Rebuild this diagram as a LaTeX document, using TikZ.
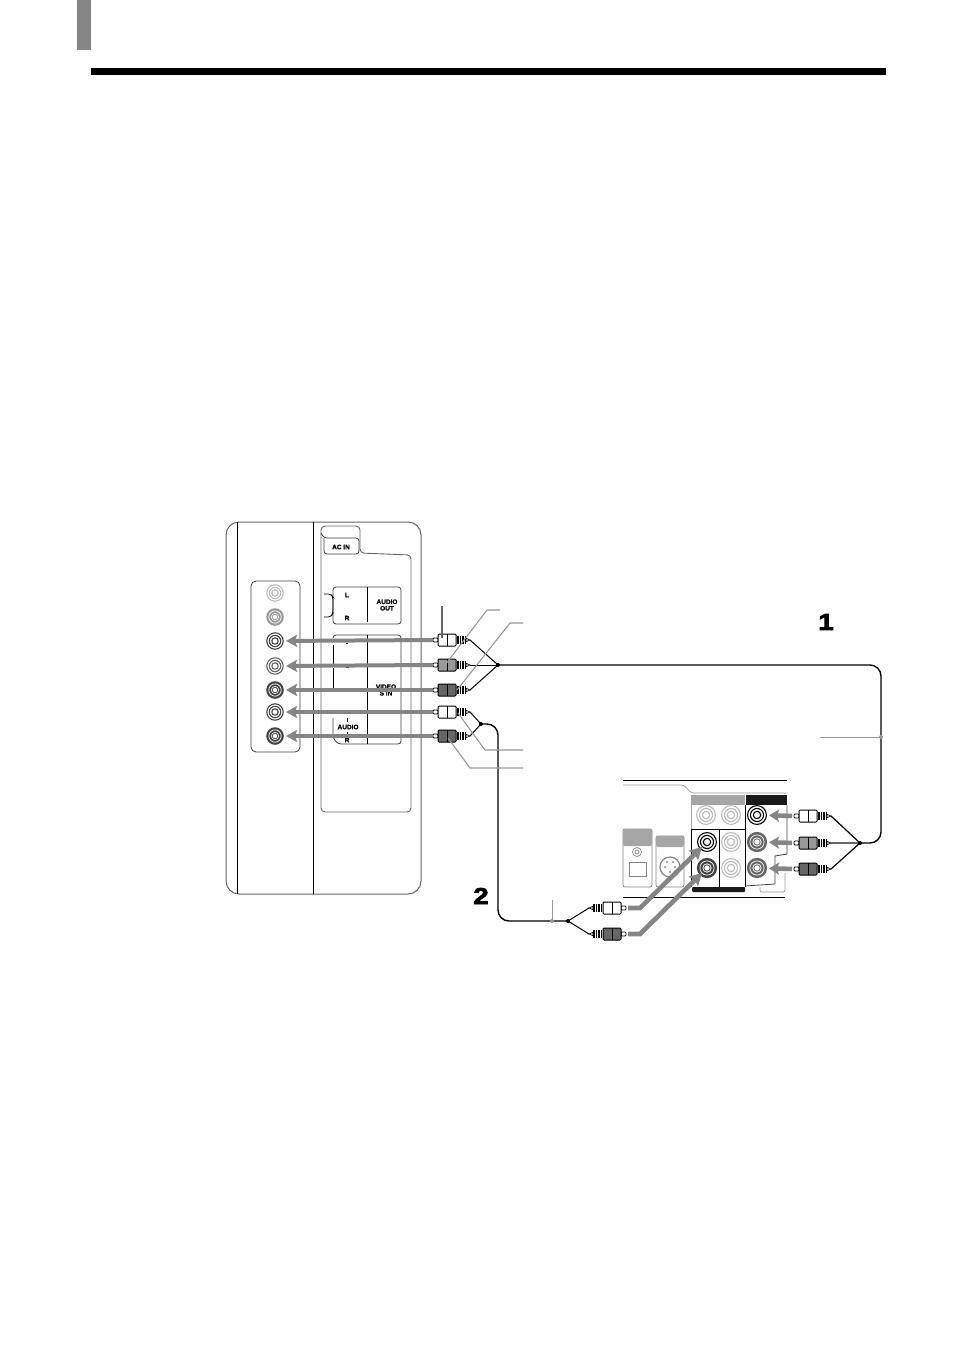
\documentclass[tikz,border=0pt]{standalone}
\usepackage{fontspec}
\setmainfont[BoldFeatures={FakeBold=1.1}]{Liberation Sans}
\newfontfamily\digitfont[BoldFeatures={FakeBold=3}]{Liberation Sans}
\usetikzlibrary{arrows.meta}
\definecolor{gA}{HTML}{858585}
\definecolor{gB}{HTML}{999999}
\definecolor{gC}{HTML}{666666}
\definecolor{gD}{HTML}{BBBBBB}
\definecolor{gE}{HTML}{444444}
\definecolor{gF}{HTML}{A6A6A6}
\tikzset{
  x=1pt,y=-1pt,
  panel/.style={draw=gC,line width=1pt,rounded corners=13pt},
  thinbox/.style={draw=black!75,line width=0.8pt,rounded corners=3pt},
  divider/.style={draw=black,line width=1pt},
  flow/.style={draw=gA,line width=4pt,-{Stealth[length=11pt,width=12pt,inset=2pt]}},
  flowr/.style={draw=gA,line width=4.6pt,-{Stealth[length=10pt,width=12pt,inset=2pt]}},
  flowb/.style={draw=gA,line width=4.6pt,line join=miter,-{Stealth[length=12pt,width=13pt,inset=2pt]}},
  cable/.style={draw=black,line width=1pt},
  bigcable/.style={draw=black,line width=1.4pt,rounded corners=11pt},
  callout/.style={draw=gB,line width=1.1pt},
  hairline/.style={draw=gB,line width=0.7pt},
  tinytext/.style={font=\bfseries\fontsize{6.5}{7}\selectfont,inner sep=0pt,align=center},
  bigdigit/.style={font=\digitfont\bfseries\fontsize{23}{23}\selectfont,inner sep=0pt},
  pics/plug/.style={code={
    \draw[line width=0.8pt,fill=white,rounded corners=1pt] (0,-2) rectangle (5,2);
    \draw[line width=1pt,fill=#1,rounded corners=1pt] (5,-6) rectangle (23,6);
    \draw[line width=0.7pt] (14,-6) -- (14,6);
    \fill[black] (24,-3.8) rectangle (33,3.8);
    \foreach \q in {26,28.5,31}{\draw[white,line width=0.5pt] (\q,-3.8)--(\q,3.8);}
    \draw[line width=0.7pt,fill=white] (33,-1.7) -- (37,0) -- (33,1.7) -- cycle;
    \coordinate (-tip) at (0,0);
    \coordinate (-tail) at (37,0);
  }},
  pics/ringjack/.style={code={
    \draw[#1,line width=1.1pt,fill=white] (0,0) circle (8.2);
    \draw[#1,line width=1.1pt] (0,0) circle (5.7);
    \draw[#1,line width=1.1pt] (0,0) circle (3.2);
    \coordinate (-c) at (0,0);
  }},
  pics/solidjack/.style={code={
    \fill[#1] (0,0) circle (8.8);
    \draw[white,line width=0.7pt] (0,0) circle (6.2);
    \fill[white] (0,0) circle (4);
    \draw[#1,line width=0.8pt] (0,0) circle (2.8);
    \coordinate (-c) at (0,0);
  }},
}
\begin{document}
\begin{tikzpicture}
\useasboundingbox (0,0) rectangle (954,1351);
\fill[white] (0,0) rectangle (954,1351);
% page header
\fill[gA] (77,0) rectangle (91,50);
\fill[black] (91,68) rectangle (886,75);

% TV side panel
\draw[panel] (226,522) rectangle (421,894);
\draw[divider] (237,522) -- (237,894);
\draw[divider] (313,522) -- (313,894);
\draw[draw=gC,line width=0.9pt] (321,812) [rounded corners=4pt] -- (321,526) -- (360,526) -- (360,553) -- (411,555) -- (411,812) -- cycle;
\draw[thinbox] (321,533) -- (324,538) -- (359,538) -- (359,554) -- (324,554) -- (324,538);
\node[tinytext] (acin) at (341,547) {AC IN};
% audio out
\draw[thinbox] (333,587) rectangle (401,624);
\draw[divider] (367,587) -- (367,622);
\node[tinytext] (lout) at (347,595) {L};
\node[tinytext] (rout) at (347,618) {R};
\node[tinytext] (aout) at (387,605) {AUDIO\\[-0.5pt]OUT};
\draw[draw=black,line width=0.8pt,rounded corners=3pt] (324,594) -- (331,594) -- (333,597) -- (333,613) -- (331,617) -- (324,617);
% video in
\draw[thinbox] (333,638) -- (333,635) -- (401,635) -- (401,744) -- (338,744) -- (333,738) -- (333,718);
\draw[divider] (367,635) -- (367,744);
\draw[draw=black,line width=0.8pt] (333,645) -- (333,664) (333,668) -- (333,690);
\draw[draw=black,line width=0.9pt] (346,643) -- (348,643) (346,667) -- (349,667) (344,688) -- (347,688);
\node[tinytext] (videoin) at (386,690) {VIDEO\\[-0.5pt]S IN};
\node[tinytext] (audioin) at (348,727) {AUDIO};
\node[tinytext] (rin) at (347,740) {R};
\draw[draw=black,line width=0.8pt] (347,718) -- (347,722) (347,732) -- (347,735);
% jack panel
\draw[thinbox,rounded corners=5pt] (251,581) rectangle (300,752);
\pic (j1) at (275,593) {ringjack=gD};
\pic (j2) at (275,617) {solidjack=gB};
\pic (j3) at (275,641) {ringjack=gE};
\pic (j4) at (275,666) {ringjack=gC};
\pic (j5) at (275,690) {solidjack=gE};
\pic (j6) at (275,712) {ringjack=gE};
\pic (j7) at (275,736) {solidjack=gE};

% plugs at the TV
\pic (p1) at (433,640) {plug=white};
\pic (p2) at (433,665) {plug=gB};
\pic (p3) at (433,690) {plug=gC};
\pic (p4) at (433,712) {plug=white};
\pic (p5) at (433,736) {plug=gC};
\draw[flow,shorten >=11pt] (p1-tip) -- (j3-c);
\draw[flow,shorten >=11pt] (p2-tip) -- (j4-c);
\draw[flow,shorten >=11pt] (p3-tip) -- (j5-c);
\draw[flow,shorten >=11pt] (p4-tip) -- (j6-c);
\draw[flow,shorten >=11pt] (p5-tip) -- (j7-c);

% receiver back
\draw[draw=black,line width=1pt] (623,780) -- (787,780);
\draw[draw=black,line width=1pt] (623,897) -- (785,897);
\draw[hairline,rounded corners=4pt] (623,785) -- (685,785) -- (690,793) -- (787,793);
\fill[gF] (691,795) rectangle (745,805);
\fill[black!90] (746,795) rectangle (787,805);
\draw[draw=black,line width=1pt] (691,829) -- (745,829) (691,829) -- (691,887) (719,829) -- (719,887) (745,805) -- (745,887);
\draw[draw=gF,line width=0.8pt] (691,805) -- (691,829);
\fill[black!90,rounded corners=1pt] (692,887) rectangle (745,892);
\draw[draw=gE,line width=0.8pt] (787,805) -- (787,854) -- (775,856) -- (775,884) -- (745,886);
\draw[hairline,rounded corners=2pt] (760,887) -- (760,892) -- (785,892) -- (785,873);
% optical box
\draw[draw=gA,line width=0.8pt,rounded corners=2pt] (623,829) rectangle (652,887);
\fill[gF,rounded corners=2pt] (623,829) rectangle (652,846);
\draw[draw=gA,line width=0.7pt] (637,852) circle (4.5) (637,852) circle (2);
\draw[draw=gA,line width=0.7pt] (629,862) rectangle (646,876);
% s-video box
\draw[draw=gA,line width=0.8pt,rounded corners=2pt] (656,836) rectangle (684,887);
\fill[gF,rounded corners=2pt] (656,836) rectangle (684,847);
\draw[draw=gA,line width=1.2pt,fill=white] (670,867) circle (10);
\fill[gA] (665,867) circle (1.2) (675,867) circle (1.2) (667,862) circle (1.2) (673,862) circle (1.2) (670,872) circle (1.2);
% receiver jacks
\pic[scale=1.15] (r11) at (706,815) {ringjack=gD};
\pic[scale=1.15] (r12) at (731,815) {ringjack=gD};
\pic[scale=1.15] (r13) at (757,815) {ringjack=black};
\pic[scale=1.15] (r21) at (707,842) {ringjack=black};
\pic[scale=1.15] (r22) at (731,842) {ringjack=gD};
\pic[scale=1.15] (r23) at (757,842) {solidjack=gC};
\pic[scale=1.15] (r31) at (707,868) {solidjack=gE};
\pic[scale=1.15] (r32) at (731,868) {ringjack=gD};
\pic[scale=1.15] (r33) at (757,868) {solidjack=gC};

% plugs at the receiver, front
\pic (q1) at (794,816) {plug=white};
\pic (q2) at (794,843) {plug=gB};
\pic (q3) at (794,869) {plug=gC};
\draw[flowr,shorten >=12pt,shorten <=2pt] (q1-tip) -- (r13-c);
\draw[flowr,shorten >=12pt,shorten <=2pt] (q2-tip) -- (r23-c);
\draw[flowr,shorten >=12pt,shorten <=2pt] (q3-tip) -- (r33-c);
\coordinate (jr) at (860,843);
\coordinate (jt) at (498,665);
\draw[cable,line width=1.2pt] (q1-tail) -- (jr);
\draw[cable,draw=gC,line width=1.2pt] (q2-tail) -- (jr);
\draw[cable,line width=1.2pt] (q3-tail) -- (jr);
\fill (jr) circle (2);
\draw[cable] (p1-tail) -- (jt);
\draw[cable] (p2-tail) -- (jt);
\draw[cable] (p3-tail) -- (jt);
\fill (jt) circle (2);
\draw[bigcable] (jt) -- (881,665) -- (881,843) -- (jr);

% audio cable
\coordinate (jb) at (481,724);
\coordinate (ja) at (568,921);
\draw[cable] (p4-tail) -- (jb);
\draw[cable] (p5-tail) -- (jb);
\fill (jb) circle (2);
\pic[xscale=-1] (s1) at (626,908) {plug=white};
\pic[xscale=-1] (s2) at (626,934) {plug=gC};
\draw[cable] (s1-tail) -- (ja);
\draw[cable] (s2-tail) -- (ja);
\fill (ja) circle (2);
\draw[bigcable] (jb) -- (498,724) -- (498,921) -- (ja);
\coordinate (r21arrow) at (702,847);
\coordinate (r31arrow) at (702,873);
\draw[flowb,shorten <=2pt] (s1-tip) -- (640,908) -- (r21arrow);
\draw[flowb,shorten <=2pt] (s2-tip) -- (640,934) -- (r31arrow);

% callouts
\coordinate (c1a) at (442,606);
\coordinate (c1b) at (442,638);
\draw[callout,draw=gC] (c1a) -- (c1b);
\coordinate (c2a) at (500,610);
\coordinate (c2b) at (445,665);
\draw[callout] (c2a) -- (487,610) -- (c2b);
\coordinate (c3a) at (523,623);
\coordinate (c3b) at (457,690);
\draw[callout] (c3a) -- (510,623) -- (c3b);
\coordinate (c4a) at (523,750);
\coordinate (c4b) at (458,713);
\draw[callout] (c4a) -- (485,750) -- (c4b);
\coordinate (c5a) at (523,768);
\coordinate (c5b) at (448,738);
\draw[callout] (c5a) -- (470,768) -- (c5b);
\coordinate (c6a) at (820,737);
\coordinate (c6b) at (881,737);
\draw[hairline] (c6a) -- (c6b);
\fill[gB] (c6b) circle (2);
\coordinate (c7a) at (552,900);
\coordinate (c7b) at (552,921);
\draw[hairline] (c7a) -- (c7b);
\fill[gB] (c7b) circle (2);

% step numbers
\node[bigdigit] (stepa) at (826,622) {\scalebox{1.2}[1]{1}};
\node[bigdigit] (stepb) at (481,896) {\scalebox{1.2}[1]{2}};
\end{tikzpicture}
\end{document}
